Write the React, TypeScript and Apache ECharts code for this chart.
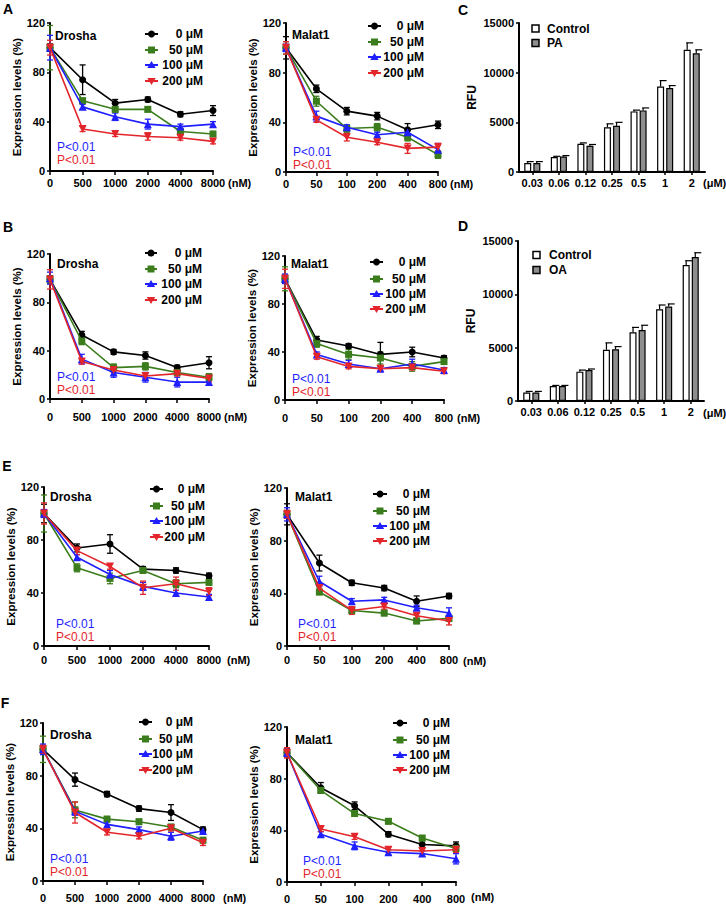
import React, { useEffect, useRef } from 'react';
import * as echarts from 'echarts';

const FONT = '"Liberation Sans", Arial, Helvetica, sans-serif';

// ---------- categories / ticks ----------
const DROSHA_DOSES = ['0', '500', '1000', '2000', '4000', '8000'];
const MALAT1_DOSES = ['0', '50', '100', '200', '400', '800'];
const GROUP_LABELS = ['0 μM', '50 μM', '100 μM', '200 μM'];
const EXPR_MIN = 0;
const EXPR_MAX = 120;
const EXPR_STEP = 40;
const RFU_CONCS = ['0.03', '0.06', '0.12', '0.25', '0.5', '1', '2'];
const RFU_MIN = 0;
const RFU_MAX = 15000;
const RFU_STEP = 5000;

// ---------- Panel A ----------
const A_DROSHA_MEAN = [
  [100, 74, 55, 58, 46, 49],
  [100, 57, 50, 50, 32, 30],
  [100, 52, 44, 38, 36, 38],
  [100, 34, 30, 28, 27, 24],
];
const A_DROSHA_ERR = [
  [3, 12, 3, 2, 2, 4],
  [18, 2, 2, 2, 2, 2],
  [10, 2, 3, 4, 2, 2],
  [6, 2, 2, 3, 2, 2],
];
const A_MALAT1_MEAN = [
  [100, 67, 49, 45, 34, 38],
  [100, 57, 35, 36, 28, 14],
  [100, 45, 36, 30, 32, 18],
  [100, 42, 28, 24, 19, 20],
];
const A_MALAT1_ERR = [
  [9, 3, 3, 3, 5, 3],
  [5, 4, 3, 3, 3, 3],
  [3, 4, 2, 2, 2, 5],
  [5, 2, 3, 2, 4, 3],
];

// ---------- Panel B ----------
const B_DROSHA_MEAN = [
  [99, 53, 39, 36, 26, 30],
  [99, 48, 26, 27, 22, 18],
  [100, 33, 22, 18, 14, 14],
  [99, 31, 24, 19, 21, 17],
];
const B_DROSHA_ERR = [
  [3, 3, 2, 3, 2, 5],
  [3, 3, 3, 3, 2, 3],
  [5, 4, 4, 4, 4, 2],
  [8, 2, 2, 2, 2, 3],
];
const B_MALAT1_MEAN = [
  [101, 50, 45, 38, 40, 35],
  [101, 47, 38, 35, 28, 32],
  [101, 38, 30, 26, 30, 25],
  [101, 36, 28, 26, 27, 24],
];
const B_MALAT1_ERR = [
  [3, 3, 2, 10, 4, 2],
  [10, 3, 4, 5, 4, 2],
  [4, 2, 3, 2, 4, 2],
  [8, 2, 2, 2, 2, 2],
];

// ---------- Panel C ----------
const C_CONTROL = [900, 1500, 2850, 4500, 6100, 8600, 12300];
const C_CONTROL_ERR = [150, 80, 80, 350, 130, 600, 700];
const C_PA = [900, 1550, 2650, 4650, 6200, 8450, 11950];
const C_PA_ERR = [150, 100, 120, 350, 250, 250, 350];

// ---------- Panel D ----------
const D_CONTROL = [800, 1400, 2750, 4800, 6450, 8600, 12750];
const D_CONTROL_ERR = [100, 60, 150, 650, 450, 400, 400];
const D_OA = [800, 1400, 2900, 4850, 6650, 8850, 13500];
const D_OA_ERR = [100, 60, 100, 250, 450, 250, 400];

// ---------- Panel E ----------
const E_DROSHA_MEAN = [
  [100, 74, 77, 58, 57, 53],
  [100, 59, 51, 57, 47, 48],
  [100, 67, 54, 45, 40, 37],
  [100, 72, 60, 44, 47, 41],
];
const E_DROSHA_ERR = [
  [7, 3, 7, 2, 2, 2],
  [14, 3, 4, 2, 3, 2],
  [3, 2, 3, 3, 2, 2],
  [8, 3, 2, 5, 5, 3],
];
const E_MALAT1_MEAN = [
  [100, 63, 48, 44, 34, 38],
  [100, 41, 27, 25, 19, 21],
  [100, 49, 34, 35, 29, 25],
  [100, 44, 27, 30, 23, 19],
];
const E_MALAT1_ERR = [
  [8, 6, 2, 2, 4, 2],
  [3, 2, 2, 2, 2, 2],
  [5, 4, 2, 2, 2, 4],
  [3, 2, 3, 2, 2, 3],
];

// ---------- Panel F ----------
const F_DROSHA_MEAN = [
  [100, 77, 66, 55, 52, 39],
  [100, 54, 47, 45, 41, 31],
  [100, 53, 43, 39, 34, 38],
  [100, 52, 37, 34, 40, 29],
];
const F_DROSHA_ERR = [
  [3, 5, 2, 2, 6, 2],
  [10, 6, 2, 2, 2, 2],
  [4, 3, 2, 2, 3, 2],
  [3, 8, 2, 2, 2, 2],
];
const F_MALAT1_MEAN = [
  [100, 73, 59, 37, 29, 28],
  [100, 71, 53, 47, 34, 26],
  [100, 37, 28, 23, 22, 18],
  [100, 41, 35, 25, 24, 25],
];
const F_MALAT1_ERR = [
  [3, 4, 3, 2, 3, 3],
  [3, 2, 2, 2, 2, 2],
  [3, 2, 3, 2, 2, 4],
  [4, 2, 2, 2, 2, 2],
];

// ---------- styling ----------
const COLORS = ['#000000', '#3b7d1c', '#1f1fff', '#e3262b'];
const SYMBOLS = ['circle', 'rect', 'triangle', 'triangle'];
const SYMBOL_ROT = [0, 0, 0, 180];
const SYMBOL_SIZE = [7, 7, 8, 8];

type LinePanel = {
  gene: string;
  doses: string[];
  means: number[][];
  errs: number[][];
  grid: number[];
  nameGap: number;
  labelMargin: number;
  legend: { x1: number; x2: number; tr: number; ys: number[] };
  geneXY: number[];
  pXY: number[];
  unitXY: number[];
};

const LINE_PANELS: LinePanel[] = [
  { gene: 'Drosha', doses: DROSHA_DOSES, means: A_DROSHA_MEAN, errs: A_DROSHA_ERR, grid: [50, 23, 163, 148], nameGap: 26, labelMargin: 6,
    legend: { x1: 145, x2: 158, tr: 203, ys: [34, 50, 65, 81] }, geneXY: [55, 36], pXY: [57, 147], unitXY: [228, 183] },
  { gene: 'Malat1', doses: MALAT1_DOSES, means: A_MALAT1_MEAN, errs: A_MALAT1_ERR, grid: [286, 23, 152, 149], nameGap: 25, labelMargin: 6,
    legend: { x1: 368, x2: 381, tr: 424, ys: [26, 42, 57, 73] }, geneXY: [292, 35], pXY: [293, 152], unitXY: [450, 184] },
  { gene: 'Drosha', doses: DROSHA_DOSES, means: B_DROSHA_MEAN, errs: B_DROSHA_ERR, grid: [50, 254, 159, 145], nameGap: 26, labelMargin: 12,
    legend: { x1: 145, x2: 157, tr: 202, ys: [253, 269, 284, 300] }, geneXY: [57, 264], pXY: [57, 377], unitXY: [224, 417] },
  { gene: 'Malat1', doses: MALAT1_DOSES, means: B_MALAT1_MEAN, errs: B_MALAT1_ERR, grid: [285, 256, 159, 144], nameGap: 25, labelMargin: 12,
    legend: { x1: 370, x2: 383, tr: 426, ys: [262, 279, 294, 309] }, geneXY: [291, 264], pXY: [292, 379], unitXY: [457, 418] },
  { gene: 'Drosha', doses: DROSHA_DOSES, means: E_DROSHA_MEAN, errs: E_DROSHA_ERR, grid: [44, 487, 165, 159], nameGap: 20, labelMargin: 8,
    legend: { x1: 150, x2: 163, tr: 205, ys: [489, 506, 521, 537] }, geneXY: [50, 497], pXY: [56, 624], unitXY: [227, 660] },
  { gene: 'Malat1', doses: MALAT1_DOSES, means: E_MALAT1_MEAN, errs: E_MALAT1_ERR, grid: [287, 488, 162, 158], nameGap: 26, labelMargin: 8,
    legend: { x1: 373, x2: 387, tr: 430, ys: [494, 511, 526, 541] }, geneXY: [295, 497], pXY: [298, 624], unitXY: [463, 661] },
  { gene: 'Drosha', doses: DROSHA_DOSES, means: F_DROSHA_MEAN, errs: F_DROSHA_ERR, grid: [43, 723, 160, 158], nameGap: 19, labelMargin: 11,
    legend: { x1: 139, x2: 152, tr: 193, ys: [722, 739, 754, 770] }, geneXY: [50, 735], pXY: [50, 859], unitXY: [223, 898] },
  { gene: 'Malat1', doses: MALAT1_DOSES, means: F_MALAT1_MEAN, errs: F_MALAT1_ERR, grid: [287, 727, 169, 155], nameGap: 25, labelMargin: 11,
    legend: { x1: 393, x2: 407, tr: 450, ys: [723, 740, 755, 770] }, geneXY: [295, 740], pXY: [303, 861], unitXY: [471, 897] },
];

type BarPanel = {
  names: string[];
  values: number[][];
  errs: number[][];
  grid: number[];
  legendX: number;
  textX: number;
  legendYs: number[];
  unitXY: number[];
};

const BAR_PANELS: BarPanel[] = [
  { names: ['Control', 'PA'], values: [C_CONTROL, C_PA], errs: [C_CONTROL_ERR, C_PA_ERR], grid: [519, 23, 186, 149],
    legendX: 532, textX: 547, legendYs: [28.5, 43], unitXY: [703, 183] },
  { names: ['Control', 'OA'], values: [D_CONTROL, D_OA], errs: [D_CONTROL_ERR, D_OA_ERR], grid: [518, 241, 186, 160],
    legendX: 533, textX: 549, legendYs: [255, 270], unitXY: [703, 413] },
];

const LETTERS: [string, number, number][] = [
  ['A', 8, 9], ['B', 8, 227], ['C', 463, 10], ['D', 463, 226], ['E', 7, 466], ['F', 5, 703],
];

const BAR_W = 7;
const BAR_OFF = 4.55;

function markerGraphic(kind: number, x: number, y: number, color: string) {
  if (kind === 0) return { type: 'circle', shape: { cx: x, cy: y, r: 3.5 }, style: { fill: color } };
  if (kind === 1) return { type: 'rect', shape: { x: x - 3.5, y: y - 3.5, width: 7, height: 7 }, style: { fill: color } };
  if (kind === 2) return { type: 'polygon', shape: { points: [[x, y - 4], [x - 4.2, y + 3], [x + 4.2, y + 3]] }, style: { fill: color } };
  return { type: 'polygon', shape: { points: [[x, y + 4], [x - 4.2, y - 3], [x + 4.2, y - 3]] }, style: { fill: color } };
}

function buildOption() {
  const grids: any[] = [];
  const xAxes: any[] = [];
  const yAxes: any[] = [];
  const series: any[] = [];
  const graphics: any[] = [];

  const axisLine = { show: true, lineStyle: { color: '#000', width: 2 } };
  const labelStyle = { color: '#000', fontWeight: 'bold', fontSize: 11, fontFamily: FONT };

  LINE_PANELS.forEach((p, i) => {
    grids.push({ left: p.grid[0], top: p.grid[1], width: p.grid[2], height: p.grid[3], containLabel: false });
    xAxes.push({
      type: 'category', gridIndex: i, data: p.doses, boundaryGap: false,
      axisLine, axisTick: { show: true, length: 4, lineStyle: { color: '#000', width: 1.5 } },
      axisLabel: { ...labelStyle, margin: p.labelMargin, interval: 0 }, splitLine: { show: false },
    });
    yAxes.push({
      type: 'value', gridIndex: i, min: EXPR_MIN, max: EXPR_MAX, interval: EXPR_STEP,
      axisLine, axisTick: { show: true, length: 3, lineStyle: { color: '#000', width: 1.5 } },
      axisLabel: { ...labelStyle, margin: 5 }, splitLine: { show: false },
      name: 'Expression levels (%)', nameLocation: 'middle', nameRotate: 90, nameGap: p.nameGap,
      nameTextStyle: { color: '#000', fontWeight: 'bold', fontSize: 11.5, fontFamily: FONT },
    });
    const errData: number[][] = [];
    p.means.forEach((m, g) => {
      series.push({
        type: 'line', name: GROUP_LABELS[g], xAxisIndex: i, yAxisIndex: i,
        data: m, symbol: SYMBOLS[g], symbolRotate: SYMBOL_ROT[g], symbolSize: SYMBOL_SIZE[g], showAllSymbol: true,
        lineStyle: { color: COLORS[g], width: 1.6 }, itemStyle: { color: COLORS[g] }, z: 3 + g,
      });
      m.forEach((v, k) => errData.push([k, v, p.errs[g][k], g]));
    });
    series.push({
      type: 'custom', xAxisIndex: i, yAxisIndex: i, data: errData, encode: { x: 0, y: 1 }, z: 2, clip: false,
      renderItem: (params: any, api: any) => {
        const x = api.value(0), m = api.value(1), e = api.value(2), g = api.value(3);
        const top = api.coord([x, m + e]);
        const bot = api.coord([x, m - e]);
        const c = COLORS[g];
        const st = { stroke: c, lineWidth: 1.3 };
        return {
          type: 'group', children: [
            { type: 'line', shape: { x1: top[0], y1: top[1], x2: bot[0], y2: bot[1] }, style: st },
            { type: 'line', shape: { x1: top[0] - 3, y1: top[1], x2: top[0] + 3, y2: top[1] }, style: st },
            { type: 'line', shape: { x1: bot[0] - 3, y1: bot[1], x2: bot[0] + 3, y2: bot[1] }, style: st },
          ],
        };
      },
    });

    // legend
    p.legend.ys.forEach((y, g) => {
      graphics.push({ type: 'line', shape: { x1: p.legend.x1, y1: y, x2: p.legend.x2, y2: y }, style: { stroke: COLORS[g], lineWidth: 2 } });
      graphics.push(markerGraphic(g, (p.legend.x1 + p.legend.x2) / 2, y, COLORS[g]));
      graphics.push({ type: 'text', x: p.legend.tr, y, style: { text: GROUP_LABELS[g], fill: '#000', font: `bold 12px ${FONT}`, textAlign: 'right', textVerticalAlign: 'middle' } });
    });
    graphics.push({ type: 'text', x: p.geneXY[0], y: p.geneXY[1], style: { text: p.gene, fill: '#000', font: `bold 12px ${FONT}`, textAlign: 'left', textVerticalAlign: 'middle' } });
    graphics.push({ type: 'text', x: p.pXY[0], y: p.pXY[1], style: { text: 'P<0.01', fill: COLORS[2], font: `12px ${FONT}`, textAlign: 'left', textVerticalAlign: 'middle' } });
    graphics.push({ type: 'text', x: p.pXY[0], y: p.pXY[1] + 13, style: { text: 'P<0.01', fill: COLORS[3], font: `12px ${FONT}`, textAlign: 'left', textVerticalAlign: 'middle' } });
    graphics.push({ type: 'text', x: p.unitXY[0], y: p.unitXY[1], style: { text: '(nM)', fill: '#000', font: `bold 11px ${FONT}`, textAlign: 'left', textVerticalAlign: 'middle' } });
  });

  BAR_PANELS.forEach((b, j) => {
    const i = LINE_PANELS.length + j;
    grids.push({ left: b.grid[0], top: b.grid[1], width: b.grid[2], height: b.grid[3], containLabel: false });
    xAxes.push({
      type: 'category', gridIndex: i, data: RFU_CONCS, boundaryGap: true,
      axisLine, axisTick: { show: true, length: 3, alignWithLabel: true, lineStyle: { color: '#000', width: 1.5 } },
      axisLabel: { ...labelStyle, margin: 5, interval: 0 }, splitLine: { show: false },
    });
    yAxes.push({
      type: 'value', gridIndex: i, min: RFU_MIN, max: RFU_MAX, interval: RFU_STEP,
      axisLine, axisTick: { show: true, length: 3, lineStyle: { color: '#000', width: 1.5 } },
      axisLabel: { ...labelStyle, margin: 5, formatter: (v: number) => String(v) }, splitLine: { show: false },
      name: 'RFU', nameLocation: 'middle', nameRotate: 90, nameGap: 41,
      nameTextStyle: { color: '#000', fontWeight: 'bold', fontSize: 12, fontFamily: FONT },
    });
    const fills = ['#ffffff', '#8e8e8e'];
    const errData: number[][] = [];
    b.values.forEach((vals, k) => {
      series.push({
        type: 'bar', name: b.names[k], xAxisIndex: i, yAxisIndex: i, data: vals, barWidth: BAR_W, barGap: '30%',
        itemStyle: { color: fills[k], borderColor: '#000', borderWidth: 1.2 }, z: 2,
      });
      vals.forEach((v, c) => errData.push([c, v, b.errs[k][c], k]));
    });
    series.push({
      type: 'custom', xAxisIndex: i, yAxisIndex: i, data: errData, encode: { x: 0, y: 1 }, z: 3, clip: false,
      renderItem: (params: any, api: any) => {
        const x = api.value(0), m = api.value(1), e = api.value(2), k = api.value(3);
        const base = api.coord([x, m]);
        const top = api.coord([x, m + e]);
        const cx = base[0] + (k === 0 ? -BAR_OFF : BAR_OFF);
        const st = { stroke: '#000', lineWidth: 1.2 };
        return {
          type: 'group', children: [
            { type: 'line', shape: { x1: cx, y1: base[1], x2: cx, y2: top[1] }, style: st },
            { type: 'line', shape: { x1: cx - 1, y1: top[1], x2: cx + 6, y2: top[1] }, style: st },
          ],
        };
      },
    });
    b.legendYs.forEach((y, k) => {
      graphics.push({ type: 'rect', shape: { x: b.legendX, y: y - 3.5, width: 7, height: 7 }, style: { fill: fills[k], stroke: '#000', lineWidth: 1.5 } });
      graphics.push({ type: 'text', x: b.textX, y, style: { text: b.names[k], fill: '#000', font: `bold 12px ${FONT}`, textAlign: 'left', textVerticalAlign: 'middle' } });
    });
    graphics.push({ type: 'text', x: b.unitXY[0], y: b.unitXY[1], style: { text: '(μM)', fill: '#000', font: `bold 11px ${FONT}`, textAlign: 'left', textVerticalAlign: 'middle' } });
  });

  LETTERS.forEach(([t, x, y]) => {
    graphics.push({ type: 'text', x, y, style: { text: t, fill: '#000', font: `bold 14px ${FONT}`, textAlign: 'center', textVerticalAlign: 'middle' } });
  });

  return {
    animation: false,
    backgroundColor: '#ffffff',
    textStyle: { fontFamily: FONT },
    grid: grids,
    xAxis: xAxes,
    yAxis: yAxes,
    series,
    graphic: graphics,
  };
}

export default function App() {
  const ref = useRef<HTMLDivElement>(null);
  useEffect(() => {
    document.body.style.margin = '0';
    if (!ref.current) return;
    const chart = echarts.init(ref.current, undefined, { renderer: 'svg' });
    chart.setOption(buildOption() as any);
    return () => chart.dispose();
  }, []);
  return <div ref={ref} style={{ width: 726, height: 905, background: '#fff' }} />;
}
